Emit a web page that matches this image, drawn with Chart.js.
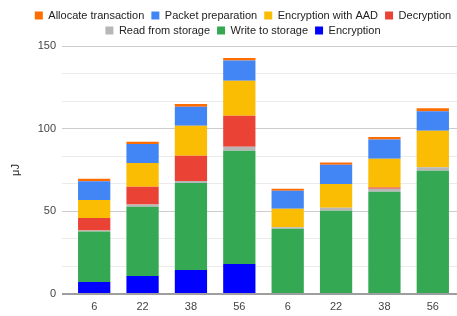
<!DOCTYPE html>
<html><head><meta charset="utf-8">
<script src="https://cdn.jsdelivr.net/npm/chart.js@4"></script>
<style>html,body{margin:0;padding:0;background:#fff}#wrap{width:457px;height:316px;position:relative}</style>
</head><body><div id="wrap"><canvas id="c"></canvas></div>
<script>
const categories = ['6', '22', '38', '56', '6', '22', '38', '56'];
const encryption = [7.3, 10.9, 14.5, 18.2, 0, 0, 0, 0];
const writeToStorage = [30.5, 41.8, 52.7, 68.4, 39.4, 50.3, 61.8, 74.5];
const readFromStorage = [0.6, 1.4, 1.2, 2.4, 1.0, 1.8, 1.8, 2.2];
const decryption = [7.6, 10.7, 15.2, 18.8, 0, 0, 0.8, 0];
const encryptionWithAAD = [10.9, 14.5, 18.2, 21.2, 11.1, 14.5, 17.4, 22.0];
const packetPreparation = [11.3, 11.4, 11.5, 12.3, 10.9, 11.5, 11.7, 11.9];
const allocateTransaction = [1.5, 1.4, 1.6, 1.4, 1.2, 1.4, 1.4, 1.7];
const yTickLabels = [0, 50, 100, 150];
const minorPerMajor = 3;

const FONT = "'Liberation Sans', Arial, sans-serif";
Chart.defaults.font.family = FONT;
Chart.defaults.font.size = 11;

function gridValues() {
  const out = [];
  for (let i = 0; i < yTickLabels.length; i++) {
    out.push(yTickLabels[i]);
    if (i < yTickLabels.length - 1) {
      const step = (yTickLabels[i + 1] - yTickLabels[i]) / minorPerMajor;
      for (let k = 1; k < minorPerMajor; k++) out.push(yTickLabels[i] + k * step);
    }
  }
  return out;
}
function isMajor(v) { return yTickLabels.some(t => Math.abs(t - v) < 1e-6); }
function gridColor(ctx) {
  const v = ctx.tick ? ctx.tick.value : 0;
  if (Math.abs(v) < 1e-6) return '#9e9e9e';
  return isMajor(v) ? '#cccccc' : '#ebebeb';
}
function gridWidth(ctx) {
  const v = ctx.tick ? ctx.tick.value : 0;
  return Math.abs(v) < 1e-6 ? 2 : 1;
}

const legendShift = {
  id: 'legendShift',
  afterLayout(chart) {
    const lg = chart.legend;
    if (lg) { lg.left += 16; lg.right += 16; }
  }
};

new Chart(document.getElementById('c'), {
  type: 'bar',
  data: {
    labels: categories,
    datasets: [
      { label: 'Encryption', data: encryption, backgroundColor: '#0000ff' },
      { label: 'Write to storage', data: writeToStorage, backgroundColor: '#34a853' },
      { label: 'Read from storage', data: readFromStorage, backgroundColor: '#b7b7b7' },
      { label: 'Decryption', data: decryption, backgroundColor: '#ea4335' },
      { label: 'Encryption with AAD', data: encryptionWithAAD, backgroundColor: '#fbbc04' },
      { label: 'Packet preparation', data: packetPreparation, backgroundColor: '#4285f4' },
      { label: 'Allocate transaction', data: allocateTransaction, backgroundColor: '#ff6d01' }
    ]
  },
  options: {
    responsive: true,
    maintainAspectRatio: false,
    animation: false,
    devicePixelRatio: 1,
    layout: { padding: { top: 6, bottom: 0, left: 0, right: 0 } },
    datasets: { bar: { barPercentage: 0.667, categoryPercentage: 1, borderWidth: 0 } },
    plugins: {
      tooltip: { enabled: false },
      legend: {
        position: 'top',
        reverse: true,
        labels: {
          boxWidth: 8, boxHeight: 8, padding: 4, color: '#222222',
          font: { size: 11, family: FONT },
          generateLabels: (chart) => Chart.defaults.plugins.legend.labels.generateLabels(chart)
            .map(l => Object.assign(l, { text: l.text + ' ', lineWidth: 0 }))
        }
      }
    },
    scales: {
      x: {
        stacked: true,
        afterFit: (s) => { s.height = 22; },
        grid: { display: false, drawTicks: false },
        border: { display: false },
        ticks: { color: '#444444', font: { size: 11 }, padding: 6, autoSkip: false, maxRotation: 0 }
      },
      y: {
        stacked: true,
        min: 0, max: 150,
        afterBuildTicks: (s) => { s.ticks = gridValues().map(v => ({ value: v })); },
        afterFit: (s) => { s.width = 70; },
        border: { display: false },
        grid: { color: gridColor, lineWidth: gridWidth, drawTicks: true, tickLength: 8, tickColor: gridColor, tickWidth: gridWidth },
        ticks: {
          color: '#444444', font: { size: 11 }, padding: 6, autoSkip: false,
          callback: (v) => isMajor(v) ? String(Math.round(v)) : ''
        },
        title: { display: true, text: 'μJ', color: '#222222', font: { size: 11 }, padding: { top: 9, bottom: 0 } }
      }
    }
  },
  plugins: [legendShift]
});
</script>
</body></html>
